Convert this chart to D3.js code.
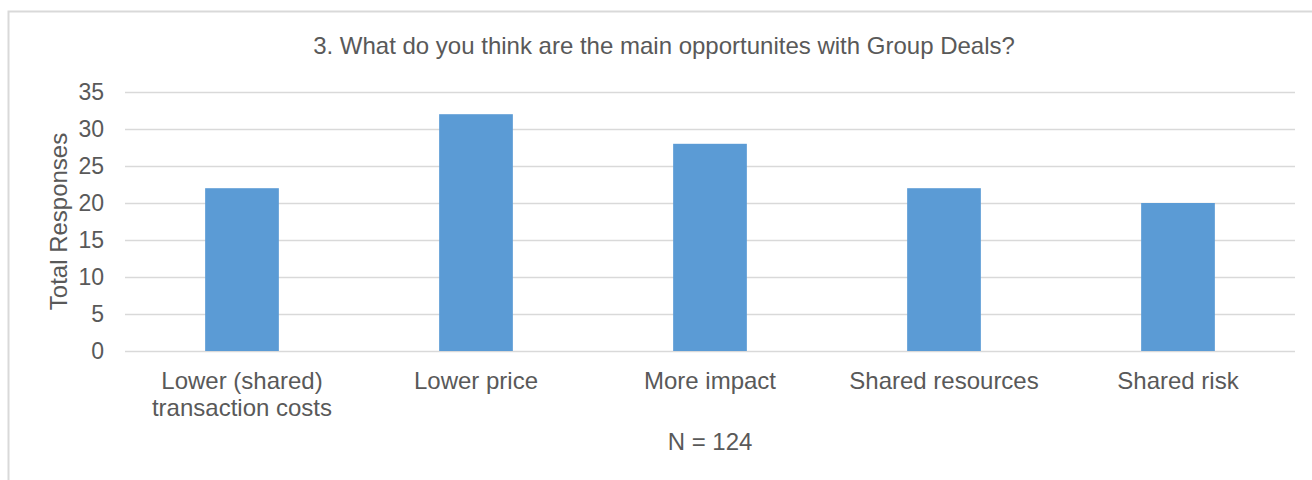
<!DOCTYPE html>
<html>
<head>
<meta charset="utf-8">
<script src="https://cdn.jsdelivr.net/npm/d3@7"></script>
<style>
  body { margin: 0; background: #fff; }
  svg { display: block; font-family: "Liberation Sans", Arial, sans-serif; }
</style>
</head>
<body>
<div id="chart"></div>
<script>
// data
const categories = ['Lower (shared)\ntransaction costs', 'Lower price', 'More impact', 'Shared resources', 'Shared risk']
const responses = [22, 32, 28, 22, 20]
const yTicks = [0, 5, 10, 15, 20, 25, 30, 35]

const width = 1312
const height = 480
const margin = { top: 92, right: 17, bottom: 129, left: 125 }

const svg = d3.select('#chart')
  .append('svg')
  .attr('width', width)
  .attr('height', height)

// chart border (right/bottom run off the picture)
svg.append('rect')
  .attr('x', 8.5)
  .attr('y', 11.5)
  .attr('width', width + 20)
  .attr('height', height + 20)
  .attr('fill', 'none')
  .attr('stroke', '#d9d9d9')
  .attr('stroke-width', 2)

const x = d3.scaleBand()
  .domain(categories)
  .range([margin.left, width - margin.right])
  .paddingInner(0.685)
  .paddingOuter(0.3425)

const y = d3.scaleLinear()
  .domain([0, 35])
  .range([height - margin.bottom, margin.top])

// gridlines
svg.append('g')
  .selectAll('line')
  .data(yTicks)
  .enter()
  .append('line')
  .attr('x1', margin.left)
  .attr('x2', width - margin.right)
  .attr('y1', d => Math.round(y(d)) + 0.5)
  .attr('y2', d => Math.round(y(d)) + 0.5)
  .attr('stroke', '#d9d9d9')
  .attr('stroke-width', 1.5)

// y axis labels
const yAxis = svg.append('g')
  .attr('transform', `translate(${margin.left - 21},0)`)
  .call(d3.axisLeft(y).tickValues(yTicks).tickSize(0).tickPadding(0))
yAxis.select('.domain').remove()
yAxis.selectAll('text')
  .attr('fill', '#595959')
  .style('font-size', '23px')
  .style('font-family', '"Liberation Sans", Arial, sans-serif')

// bars
svg.append('g')
  .selectAll('rect')
  .data(responses)
  .enter()
  .append('rect')
  .attr('x', (d, i) => x(categories[i]))
  .attr('y', d => y(d))
  .attr('width', x.bandwidth())
  .attr('height', d => y(0) - y(d))
  .attr('fill', '#5b9bd5')

// category labels
const catLabels = svg.append('g')
  .selectAll('text')
  .data(categories)
  .enter()
  .append('text')
  .attr('x', d => x(d) + x.bandwidth() / 2)
  .attr('y', 389)
  .attr('text-anchor', 'middle')
  .attr('fill', '#595959')
  .style('font-size', '24px')
catLabels.each(function (d) {
  const lines = d.split('\n')
  d3.select(this).selectAll('tspan')
    .data(lines)
    .enter()
    .append('tspan')
    .attr('x', d3.select(this).attr('x'))
    .attr('dy', (l, i) => i === 0 ? 0 : 27)
    .text(l => l)
})

// title
svg.append('text')
  .attr('x', 664)
  .attr('y', 54)
  .attr('text-anchor', 'middle')
  .attr('fill', '#595959')
  .style('font-size', '24px')
  .text('3. What do you think are the main opportunites with Group Deals?')

// y axis title
svg.append('text')
  .attr('transform', `translate(67,${(y(0) + y(35)) / 2}) rotate(-90)`)
  .attr('text-anchor', 'middle')
  .attr('fill', '#595959')
  .style('font-size', '24px')
  .text('Total Responses')

// x axis title
svg.append('text')
  .attr('x', 710)
  .attr('y', 450)
  .attr('text-anchor', 'middle')
  .attr('fill', '#595959')
  .style('font-size', '24px')
  .text('N = 124')
</script>
</body>
</html>
